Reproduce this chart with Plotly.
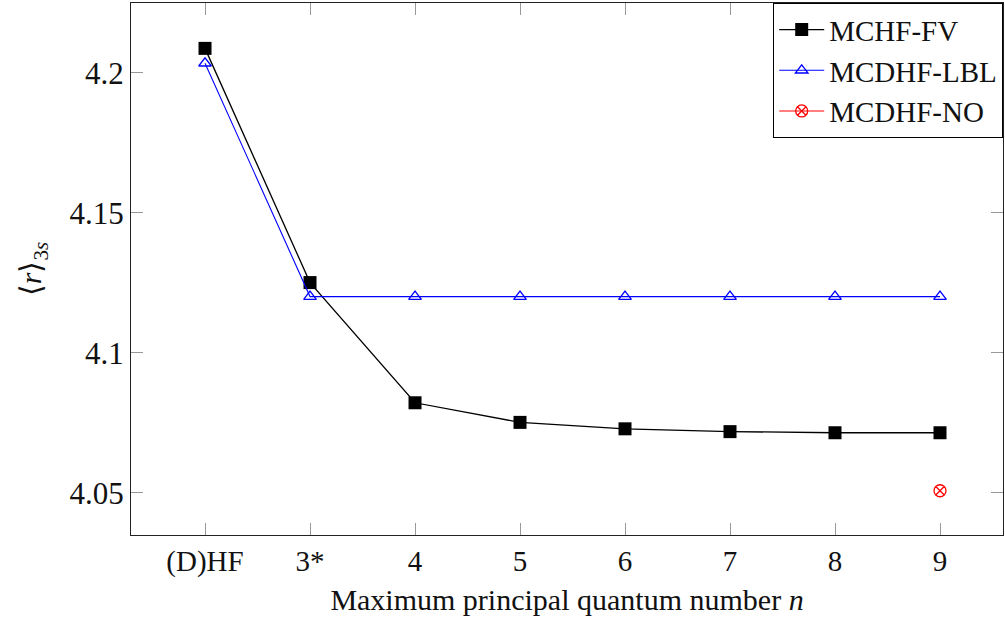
import plotly.graph_objects as go

# Basis-set labels along the x axis
categories = ["(D)HF", "3*", "4", "5", "6", "7", "8", "9"]

# <r>_3s expectation values per method
mchf_fv = [4.2087, 4.1251, 4.0822, 4.0752, 4.0729, 4.0719, 4.0715, 4.0715]
mcdhf_lbl = [4.2034, 4.1201, 4.1201, 4.1201, 4.1201, 4.1201, 4.1201, 4.1201]
mcdhf_no_cat = ["9"]
mcdhf_no = [4.0508]

y_ticks = [4.05, 4.1, 4.15, 4.2]
y_ticktext = ["4.05", "4.1", "4.15", "4.2"]

idx = {c: i for i, c in enumerate(categories)}
x_all = list(range(len(categories)))

serif = "Liberation Serif, serif"

fig = go.Figure()

fig.add_trace(go.Scatter(
    x=x_all, y=mchf_fv, name="MCHF-FV", mode="lines+markers",
    line=dict(color="black", width=1.3),
    marker=dict(symbol="square", size=13, color="black"),
))
fig.add_trace(go.Scatter(
    x=x_all, y=mcdhf_lbl, name="MCDHF-LBL", mode="lines+markers",
    line=dict(color="#0000ff", width=1.1),
    marker=dict(symbol="triangle-up-open", size=11, color="#0000ff",
                line=dict(width=1.3, color="#0000ff")),
))
fig.add_trace(go.Scatter(
    x=[idx[c] for c in mcdhf_no_cat], y=mcdhf_no, name="MCDHF-NO",
    mode="lines+markers",
    line=dict(color="#ff0000", width=1.1),
    marker=dict(symbol="circle-x-open", size=12, color="#ff0000",
                line=dict(width=1.3, color="#ff0000")),
))

axis_common = dict(
    showline=True, linecolor="#222222", linewidth=1.2, mirror="allticks",
    ticks="inside", ticklen=12, tickcolor="#999999", tickwidth=1,
    showgrid=False, zeroline=False,
)

fig.update_xaxes(
    **axis_common,
    range=[-0.705, 7.6],
    tickmode="array", tickvals=x_all, ticktext=categories,
    tickfont=dict(family=serif, size=29, color="#111111"),
    title=dict(text="Maximum principal quantum number <i>n</i>",
               font=dict(family=serif, size=30, color="#111111"), standoff=12),
)
fig.update_yaxes(
    **axis_common,
    range=[4.0350, 4.2249],
    tickmode="array", tickvals=y_ticks, ticktext=y_ticktext,
    tickfont=dict(family=serif, size=31, color="#111111"),
    title=dict(text="⟨<i>r</i>⟩<sub>3<i>s</i></sub>",
               font=dict(family=serif, size=30, color="#111111"), standoff=18),
)

fig.update_layout(
    width=1005, height=626,
    margin=dict(l=131, r=2, t=3, b=91),
    paper_bgcolor="white", plot_bgcolor="white",
    legend=dict(
        x=1, y=1, xanchor="right", yanchor="top",
        bgcolor="white", bordercolor="black", borderwidth=1.2,
        font=dict(family=serif, size=29, color="#111111"),
        itemwidth=45, tracegroupgap=0,
    ),
    showlegend=True,
)

fig.write_html("out.html")
